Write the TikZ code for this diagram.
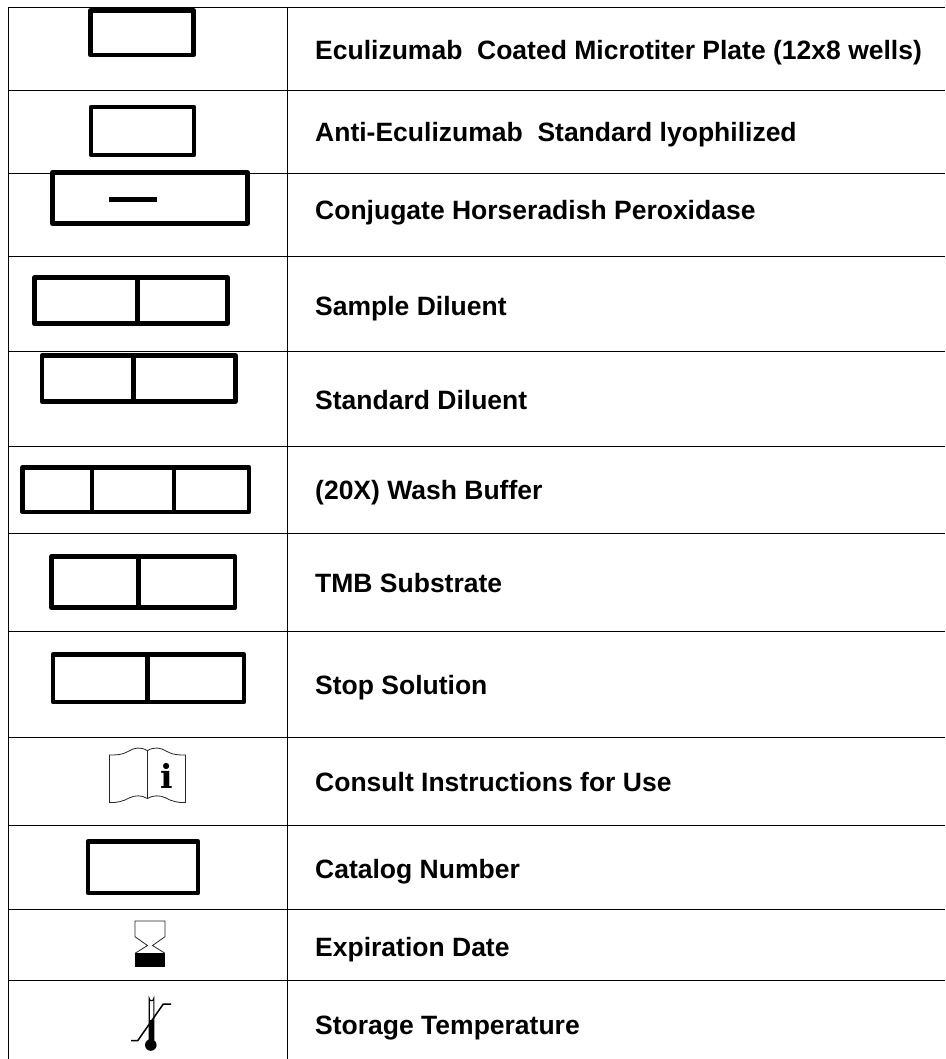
\documentclass[tikz,border=0pt]{standalone}
\usepackage{fontspec}
\setmainfont{Liberation Sans}
\newfontfamily\infofont{DejaVu Serif}
\tikzset{
 x=1pt,y=-1pt,
 rule/.style={line width=0.9pt,black},
 sym/.style={line width=4.6pt,line join=round,black},
 thin sym/.style={line width=0.8pt,black!85},
 lab/.style={anchor=base west,inner sep=0pt,font=\fontsize{26.5}{30}\selectfont\bfseries},
}
\begin{document}
\begin{tikzpicture}
\useasboundingbox (0,0) rectangle (945,1059);
\fill[white] (0,0) rectangle (945,1059);
% table
\draw[rule] (945,7.5) -- (8.5,7.5) -- (8.5,1059);
\draw[rule] (287.2,7.5) -- (287.2,1059);
\foreach \y in {90.5,173.5,256.5,351.5,446.5,533,631.5,737.5,825.5,909.5,980.5}
  \draw[rule] (8.5,\y) -- (945,\y);
% symbols
\draw[sym] (90.5,10.3) rectangle (193.6,55);
\draw[sym] (91,107) rectangle (194,155);
\draw[sym,fill=white] (52.6,172.6) rectangle (247.4,223.7);
\draw[line width=5.2pt] (109,199.3) -- (157,199.3);
\draw[sym] (34.3,277.6) rectangle (227.4,323.7); \draw[sym] (137.3,277.6) -- (137.3,325);
\draw[sym] (42,355.6) rectangle (235.4,401.4); \draw[sym] (133.5,355.6) -- (133.5,403);
\draw[sym] (22.6,467.3) rectangle (249,512);
\draw[sym] (91.8,467.3) -- (91.8,512); \draw[sym] (173.8,467.3) -- (173.8,512);
\draw[sym] (51.6,556.3) rectangle (235,607.7);
\draw[sym] (138.3,556.3) -- (138.3,607.7);
\draw[sym] (53,654.6) rectangle (244,702);
\draw[sym] (147.5,654.6) -- (147.5,702);
\draw[sym] (88,841.5) rectangle (198,893);
% book
\draw[thin sym] (147.3,750.7) .. controls (141,746.5) and (134,747.5) .. (128,751.5) .. controls (122,755) and (116,755) .. (109.5,755) -- (109.5,802.5) .. controls (117,803) and (124,801) .. (129,798) .. controls (135,795) and (142,795) .. (147.3,798.5) .. controls (153,795) and (160,795) .. (166,798) .. controls (171,801) and (178,803) .. (185.5,802.5) -- (185.5,755) .. controls (179,755) and (173,755) .. (167,751.5) .. controls (161,747.5) and (154,746.5) .. (147.3,750.7) -- cycle;
\draw[thin sym] (147.3,750.7) -- (147.3,798.5);
\node[anchor=base,inner sep=0pt,font=\fontsize{33}{36}\selectfont\bfseries\infofont] (info) at (166.3,788.3) {i};
% hourglass
\fill (135,953.3) rectangle (165,967.3);
\draw[thin sym] (135,953.3) -- (147.5,945.5) -- (135,936.7) -- (135,921) -- (165,921) -- (165,936.7) -- (152.5,945.5) -- (165,953.3);
% thermometer
\draw[line width=1.1pt] (149.2,1040) -- (149.2,998.4) arc[start angle=180,end angle=0,radius=2.3] -- (153.8,1040);
\fill (148.8,1020) rectangle (154,1045);
\fill (150.8,1045) circle (5.8);
\draw[line width=1.5pt] (131,1040.7) -- (137.7,1040.7) -- (163.3,1004) -- (171,1004);
% labels
\node[lab] (l1) at (315,59.5) {Eculizumab\ \ Coated Microtiter Plate (12x8 wells)};
\node[lab] (l2) at (315,142) {Anti-Eculizumab\ \ Standard lyophilized};
\node[lab] (l3) at (315,220) {Conjugate Horseradish Peroxidase};
\node[lab] (l4) at (315,315) {Sample Diluent};
\node[lab] (l5) at (315,409.7) {Standard Diluent};
\node[lab] (l6) at (315,499.5) {(20X) Wash Buffer};
\node[lab] (l7) at (315,592) {TMB Substrate};
\node[lab] (l8) at (315,694.7) {Stop Solution};
\node[lab] (l9) at (315,791.5) {Consult Instructions for Use};
\node[lab] (l10) at (315,878.4) {Catalog Number};
\node[lab] (l11) at (315,956) {Expiration Date};
\node[lab] (l12) at (315,1034) {Storage Temperature};
\end{tikzpicture}
\end{document}
